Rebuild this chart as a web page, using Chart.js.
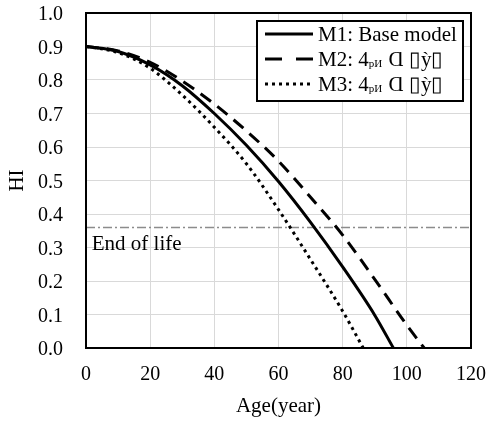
<!DOCTYPE html>
<html>
<head>
<meta charset="utf-8">
<script src="https://cdn.jsdelivr.net/npm/chart.js@4.4.0/dist/chart.umd.min.js"></script>
<style>
  html, body { margin: 0; padding: 0; background: #fff; }
  canvas { display: block; }
</style>
</head>
<body>
<canvas id="chart" width="489" height="421"></canvas>
<script>
// values
const agesM1 = [0, 10, 20, 30, 40, 50, 60, 70, 80, 90, 95.8];
const hiM1 = [0.9, 0.885, 0.845, 0.783, 0.70, 0.605, 0.497, 0.375, 0.242, 0.098, 0];

const agesM2 = [0, 10, 20, 30, 40, 50, 60, 70, 80, 90, 100, 105.4];
const hiM2 = [0.9, 0.887, 0.853, 0.797, 0.728, 0.648, 0.558, 0.45, 0.337, 0.205, 0.068, 0];

const agesM3 = [0, 10, 20, 30, 40, 50, 60, 70, 80, 86.4];
const hiM3 = [0.9, 0.882, 0.835, 0.755, 0.659, 0.55, 0.413, 0.264, 0.11, 0];

const endOfLife = 0.36;
const endOfLifeLabel = "End of life";

// legend text, split so the small "рИ" can be drawn lowered
const legendLabels = [
  [{ t: "M1: Base model" }],
  [{ t: "M2: 4" }, { t: "рИ", sub: true }, { t: " Ɑ ▯ỳ▯" }],
  [{ t: "M3: 4" }, { t: "рИ", sub: true }, { t: " Ɑ ▯ỳ▯" }],
];

const serif = "'Liberation Serif', 'Times New Roman', serif";
Chart.defaults.font.family = serif;
Chart.defaults.color = "#000";

const toPoints = (xs, ys) => xs.map((x, i) => ({ x: x, y: ys[i] }));

// the legend samples use longer dashes than the plotted line
const legendDash = [[], [17, 14], [3, 4]];

const frameAndLegend = {
  id: "frameAndLegend",
  afterDatasetsDraw(chart) {
    const { ctx, chartArea: a, scales } = chart;
    ctx.save();

    // plot frame
    ctx.strokeStyle = "#000";
    ctx.lineWidth = 2;
    ctx.strokeRect(a.left, a.top, a.right - a.left, a.bottom - a.top);

    // end of life label
    ctx.fillStyle = "#000";
    ctx.font = "21px " + serif;
    ctx.textBaseline = "alphabetic";
    ctx.textAlign = "left";
    ctx.fillText(endOfLifeLabel, scales.x.getPixelForValue(1.8), scales.y.getPixelForValue(endOfLife) + 23);

    // legend box
    const bx = a.right - 8, by = a.top + 8, bw = 206, bh = 80;
    ctx.fillStyle = "#fff";
    ctx.fillRect(bx - bw, by, bw, bh);
    ctx.strokeStyle = "#000";
    ctx.lineWidth = 2;
    ctx.strokeRect(bx - bw, by, bw, bh);

    legendLabels.forEach((parts, i) => {
      const ds = chart.data.datasets[i];
      const y = by + 13 + i * 25;
      ctx.beginPath();
      ctx.setLineDash(legendDash[i]);
      ctx.lineWidth = ds.borderWidth;
      ctx.strokeStyle = ds.borderColor;
      ctx.moveTo(bx - bw + 8, y);
      ctx.lineTo(bx - bw + 56, y);
      ctx.stroke();
      ctx.setLineDash([]);

      let x = bx - bw + 61;
      ctx.fillStyle = "#000";
      ctx.textBaseline = "middle";
      parts.forEach((p) => {
        ctx.font = (p.sub ? "11px " : "21px ") + serif;
        ctx.fillText(p.t, x, y + (p.sub ? 5 : 1));
        x += ctx.measureText(p.t).width + (p.sub ? 1 : 0);
      });
    });
    ctx.restore();
  },
};

new Chart(document.getElementById("chart"), {
  type: "line",
  data: {
    datasets: [
      {
        label: "M1",
        data: toPoints(agesM1, hiM1),
        borderColor: "#000",
        borderWidth: 3,
      },
      {
        label: "M2",
        data: toPoints(agesM2, hiM2),
        borderColor: "#000",
        borderWidth: 3,
        borderDash: [13, 8],
      },
      {
        label: "M3",
        data: toPoints(agesM3, hiM3),
        borderColor: "#000",
        borderWidth: 3,
        borderDash: [3, 4],
      },
      {
        label: "End of life",
        data: [{ x: 0, y: endOfLife }, { x: 120, y: endOfLife }],
        borderColor: "#8c8c8c",
        borderWidth: 1.5,
        borderDash: [9, 3, 2, 3],
        cubicInterpolationMode: "default",
        tension: 0,
      },
    ],
  },
  options: {
    responsive: false,
    animation: false,
    cubicInterpolationMode: "monotone",
    elements: { point: { radius: 0 } },
    layout: { padding: { top: 13, right: 18, left: 0, bottom: 0 } },
    plugins: {
      legend: { display: false },
      tooltip: { enabled: false },
    },
    scales: {
      x: {
        type: "linear",
        min: 0,
        max: 120,
        afterFit: (s) => { s.height = 73; },
        border: { display: false },
        // invisible tick marks give the label gap without adding layout padding
        grid: { color: "#d9d9d9", lineWidth: 1, drawTicks: true, tickLength: 15, tickColor: "rgba(0,0,0,0)" },
        ticks: { stepSize: 20, padding: 0, font: { size: 20 }, maxRotation: 0 },
        title: { display: true, text: "Age(year)", font: { size: 21 }, padding: { bottom: 2 } },
      },
      y: {
        min: 0,
        max: 1,
        afterFit: (s) => { s.width = 86; },
        border: { display: false },
        grid: { color: "#d9d9d9", lineWidth: 1, drawTicks: true, tickLength: 23, tickColor: "rgba(0,0,0,0)" },
        ticks: {
          stepSize: 0.1,
          padding: 0,
          labelOffset: 2,
          font: { size: 20 },
          callback: (v) => v.toFixed(1),
        },
        title: { display: true, text: "HI", font: { size: 21 }, padding: { top: 5 } },
      },
    },
  },
  plugins: [frameAndLegend],
});
</script>
</body>
</html>
